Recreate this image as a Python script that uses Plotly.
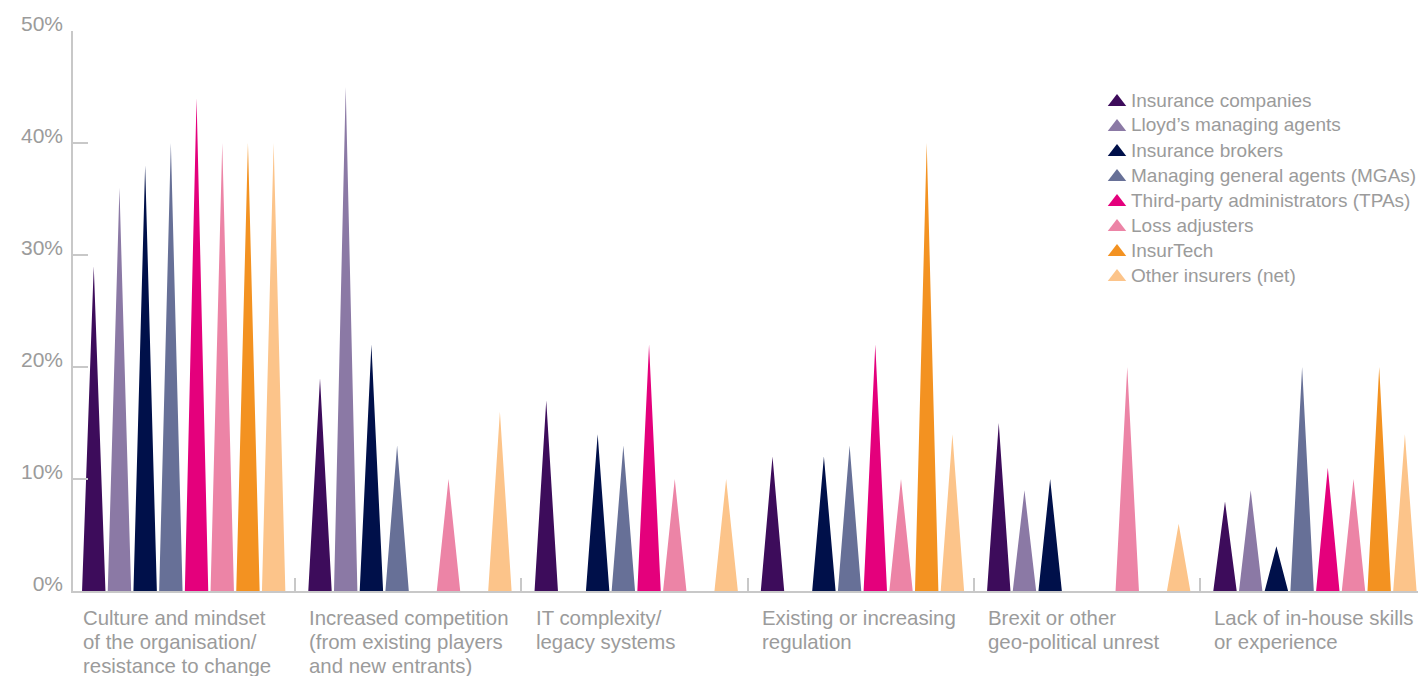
import plotly.graph_objects as go

# ---- data -------------------------------------------------------------
categories = [
    "Culture and mindset<br>of the organisation/<br>resistance to change",
    "Increased competition<br>(from existing players<br>and new entrants)",
    "IT complexity/<br>legacy systems",
    "Existing or increasing<br>regulation",
    "Brexit or other<br>geo-political unrest",
    "Lack of in-house skills<br>or experience",
]

series_names = [
    "Insurance companies",
    "Lloyd’s managing agents",
    "Insurance brokers",
    "Managing general agents (MGAs)",
    "Third-party administrators (TPAs)",
    "Loss adjusters",
    "InsurTech",
    "Other insurers (net)",
]

insurance_companies = [29, 19, 17, 12, 15, 8]
lloyds_agents = [36, 45, 0, 0, 9, 9]
insurance_brokers = [38, 22, 14, 12, 10, 4]
mgas = [40, 13, 13, 13, 0, 20]
tpas = [44, 0, 22, 22, 0, 11]
loss_adjusters = [40, 10, 10, 10, 20, 10]
insurtech = [40, 0, 0, 40, 0, 20]
other_insurers = [40, 16, 10, 14, 6, 14]

series_values = [insurance_companies, lloyds_agents, insurance_brokers, mgas,
                 tpas, loss_adjusters, insurtech, other_insurers]

y_ticks = [0, 10, 20, 30, 40, 50]
y_tick_labels = [f"{v}%" for v in y_ticks]

# ---- style ------------------------------------------------------------
colors = ["#3d0c5b", "#8b79a5", "#00104a", "#677097",
          "#e4007c", "#ec84a6", "#f39221", "#fcc48a"]
FONT = "Liberation Sans, Arial, sans-serif"
TEXT_GREY = "#9b9b9b"
AXIS_GREY = "#c8c8c8"

W, H = 1418, 676
M_L, M_R, M_T, M_B = 73, 0, 31, 85
plot_w = W - M_L - M_R
plot_h = H - M_T - M_B

# one category spans 1 unit on x; spikes sit in 8 slots inside it
CAT_PX = 226.25
ORIGIN_PX = 68.75
slot_first = 25.0 / CAT_PX
slot_pitch = 25.7 / CAT_PX
half_base = 11.7 / CAT_PX

fig = go.Figure()

for s, (name, vals) in enumerate(zip(series_names, series_values)):
    xs, ys = [], []
    for c, v in enumerate(vals):
        if v <= 0:
            continue
        xc = c + slot_first + s * slot_pitch
        xs += [xc - half_base, xc, xc + half_base, xc - half_base, None]
        ys += [0, v, 0, 0, None]
    fig.add_trace(go.Scatter(
        x=xs, y=ys, mode="lines", fill="toself",
        fillcolor=colors[s], line=dict(width=0, color=colors[s]),
        name=name, showlegend=False, hoverinfo="skip",
    ))

# ---- legend (triangle keys + labels) ---------------------------------
def px_to_paper_x(px):
    return (px - M_L) / plot_w

def px_to_paper_y(py):
    return (M_T + plot_h - py) / plot_h

leg_rows = [100 + 25 * k for k in range(len(series_names))]
fig.add_trace(go.Scatter(
    x=[px_to_paper_x(1117)] * len(series_names),
    y=[px_to_paper_y(r + 2) for r in leg_rows],
    xaxis="x2", yaxis="y2", mode="markers",
    marker=dict(symbol="triangle-up", size=16, color=colors, line=dict(width=0)),
    showlegend=False, hoverinfo="skip",
))

annotations = []
for name, r in zip(series_names, leg_rows):
    annotations.append(dict(
        text=name, xref="paper", yref="paper",
        x=px_to_paper_x(1129), y=px_to_paper_y(r),
        xanchor="left", yanchor="middle", showarrow=False,
        font=dict(family=FONT, size=19, color=TEXT_GREY),
    ))

# ---- category labels -------------------------------------------------
LINE_GAP = 24
for c, label in enumerate(categories):
    for k, line in enumerate(label.split("<br>")):
        annotations.append(dict(
            text=line, xref="x", yref="paper",
            x=c + 0.055, y=0, yshift=-14 - LINE_GAP * k,
            xanchor="left", yanchor="top", showarrow=False,
            font=dict(family=FONT, size=20.4, color=TEXT_GREY),
        ))

x0 = (M_L - ORIGIN_PX) / CAT_PX
x1 = (W - M_R - ORIGIN_PX) / CAT_PX

fig.update_layout(
    width=W, height=H,
    margin=dict(l=M_L, r=M_R, t=M_T, b=M_B),
    paper_bgcolor="white", plot_bgcolor="white",
    showlegend=False,
    annotations=annotations,
    xaxis=dict(
        range=[x0, x1], showgrid=False, zeroline=False,
        showline=True, linecolor=AXIS_GREY, linewidth=2,
        tickvals=list(range(1, len(categories))),
        ticks="inside", ticklen=13, tickwidth=1.5, tickcolor=AXIS_GREY,
        showticklabels=False, fixedrange=True,
    ),
    yaxis=dict(
        range=[0, 50], showgrid=False, zeroline=False,
        showline=True, linecolor=AXIS_GREY, linewidth=1.5,
        tickmode="array", tickvals=y_ticks, ticktext=y_tick_labels,
        ticks="inside", ticklen=15, tickwidth=1.5, tickcolor=AXIS_GREY,
        tickfont=dict(family=FONT, size=21, color=TEXT_GREY),
        ticklabelstandoff=4, ticklabelshift=-7, fixedrange=True,
    ),
    xaxis2=dict(overlaying="x", range=[0, 1], visible=False, fixedrange=True),
    yaxis2=dict(overlaying="y", range=[0, 1], visible=False, fixedrange=True),
)

fig.write_html("out.html")
